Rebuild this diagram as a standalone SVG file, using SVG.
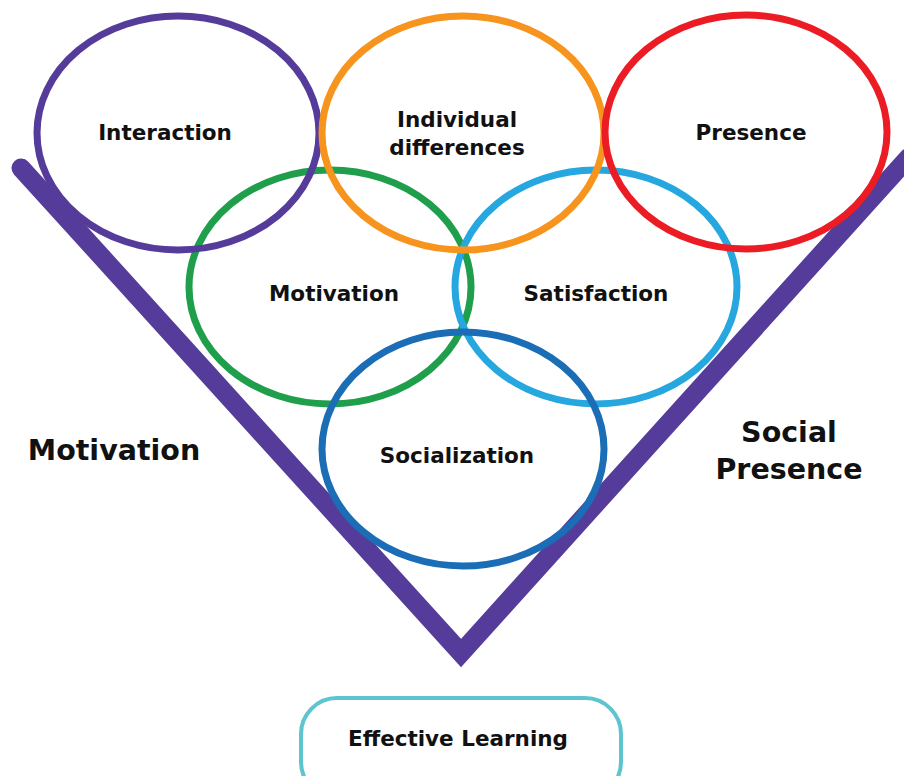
<svg xmlns="http://www.w3.org/2000/svg" width="904" height="776" viewBox="0 0 904 776">
<style>
.e{fill:none;stroke-width:7}
.t{font-family:"DejaVu Sans",sans-serif;font-weight:bold;font-size:21.5px;fill:#111;text-anchor:middle}
.b{font-family:"DejaVu Sans",sans-serif;font-weight:bold;font-size:28.5px;fill:#111;text-anchor:middle}
</style>
<rect width="904" height="776" fill="#fff"/>
<g id="connectors">
<polyline points="21,168 461,653 908,158" fill="none" stroke="#553c9a" stroke-width="19" stroke-linecap="round" stroke-linejoin="miter" stroke-miterlimit="10"/>
</g>
<g id="motivation"><ellipse class="e" cx="330" cy="287" rx="141" ry="117" stroke="#1f9f4b"/><text class="t" x="334" y="301">Motivation</text></g>
<g id="satisfaction"><ellipse class="e" cx="596" cy="287" rx="141" ry="117" stroke="#27a7df"/><text class="t" x="596" y="301">Satisfaction</text></g>
<g id="interaction"><ellipse class="e" cx="178" cy="133" rx="141" ry="117" stroke="#553c9a"/><text class="t" x="165" y="140">Interaction</text></g>
<g id="individual"><ellipse class="e" cx="463" cy="133" rx="141" ry="117" stroke="#f7941e"/><text class="t" x="457" y="127">Individual</text><text class="t" x="457" y="155">differences</text></g>
<g id="presence"><ellipse class="e" cx="746" cy="132" rx="141" ry="117" stroke="#ec1c24"/><text class="t" x="751" y="140">Presence</text></g>
<g id="socialization"><ellipse class="e" cx="463" cy="449" rx="141" ry="117" stroke="#1b6db5"/><text class="t" x="457" y="463">Socialization</text></g>
<g id="motivation-label"><text class="b" x="114" y="460">Motivation</text></g>
<g id="social-presence-label"><text class="b" x="789" y="442">Social</text><text class="b" x="789" y="479">Presence</text></g>
<g id="effective-learning"><rect x="301" y="698" width="320" height="100" rx="36" fill="#fff" stroke="#5ec4cf" stroke-width="4"/><text class="t" x="458" y="746">Effective Learning</text></g>
</svg>
